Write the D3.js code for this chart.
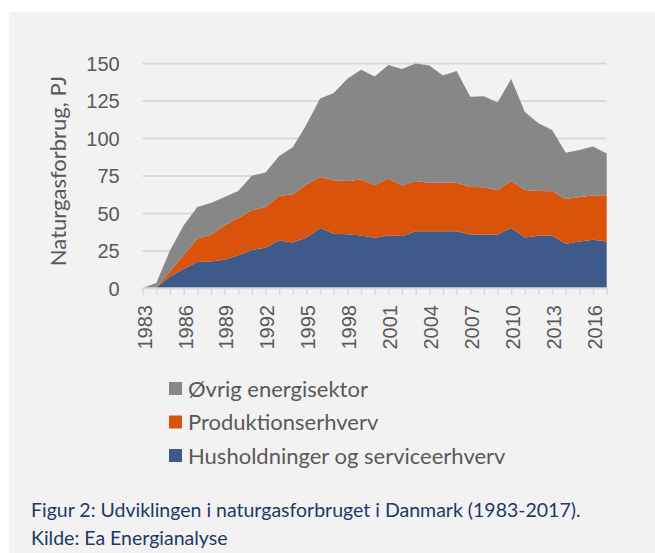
<!DOCTYPE html>
<html>
<head>
  <meta charset="utf-8" />
  <script src="https://d3js.org/d3.v7.min.js"></script>
  <style>
    * {
      margin: 0;
      padding: 0;
      box-sizing: border-box;
    }

    body {
      width: 655px;
      height: 553px;
      background-color: #ffffff;
      overflow: hidden;
    }

    svg {
      display: block;
      font-family: Lato, "Open Sans", sans-serif;
    }

    .axis text {
      fill: #595959;
      font-size: 20px;
    }

    .axis path.domain {
      display: none;
    }
  </style>
</head>
<body>
  <svg width="655" height="553"></svg>

  <script>
    // Data (PJ per year)
    const years = d3.range(1983, 2018);
    const husholdninger = [0, 0.3, 7.6, 12.7, 17.4, 17.6, 18.8, 21.9, 25.4, 26.8, 31.7, 30.4, 33.7, 40, 36.2,
      35.9, 35, 33.5, 35, 34.6, 37.9, 37.9, 37.9, 37.9, 35.7, 35.5, 35.7, 40, 33.7, 34.8, 34.8, 29.5, 31, 32.1, 31];
    const produktion = [0, 0.2, 3.4, 9.3, 15.4, 17.9, 22.9, 24.8, 26.4, 27.2, 29.7, 32.1, 35.3, 34, 35.7,
      35.5, 37.3, 35, 38, 33.7, 33.5, 32.2, 32.2, 32.2, 31.7, 31.7, 29.5, 31.4, 31.7, 29.9, 29.7, 29.9, 29.7, 29.5, 30.8];
    const ovrig = [0, 2.8, 14, 19.7, 21.2, 21.2, 19, 18, 23, 23, 26.6, 31.3, 40, 52.3, 58.1,
      68.1, 73.2, 72.5, 75.7, 77.7, 78.2, 78.3, 71.6, 74.5, 60.1, 60.7, 58.5, 67.9, 52, 45.1, 40.9, 30.8, 31.3, 32.8, 27.9];

    const seriesNames = ["Husholdninger og serviceerhverv", "Produktionserhverv", "Øvrig energisektor"];
    const seriesColors = ["#3e5a8a", "#d9540a", "#878787"];
    const yTicks = [0, 25, 50, 75, 100, 125, 150];
    const yLabel = "Naturgasforbrug, PJ";
    const caption = ["Figur 2: Udviklingen i naturgasforbruget i Danmark (1983-2017).", "Kilde: Ea Energianalyse"];

    const svg = d3.select("svg");

    // grey panel
    svg.append("rect")
      .attr("x", 9).attr("y", 12)
      .attr("width", 646).attr("height", 541)
      .attr("fill", "#f2f2f2");

    const x = d3.scalePoint().domain(years).range([142.7, 606.7]);
    const y = d3.scaleLinear().domain([0, 150]).range([288, 63]);

    // y axis with gridlines
    svg.append("g")
      .attr("class", "axis")
      .attr("transform", "translate(142.7,0)")
      .call(d3.axisLeft(y).tickValues(yTicks).tickSize(-464).tickPadding(23))
      .call(g => g.selectAll(".tick line").attr("stroke", "#d9d9d9").attr("stroke-width", 2))
      .call(g => g.selectAll(".tick text").attr("dy", "0.36em"));

    // stacked areas
    const rows = years.map((yr, i) => ({
      year: yr,
      [seriesNames[0]]: husholdninger[i],
      [seriesNames[1]]: produktion[i],
      [seriesNames[2]]: ovrig[i]
    }));
    const stacked = d3.stack().keys(seriesNames)(rows);

    const area = d3.area()
      .x(d => x(d.data.year))
      .y0(d => y(d[0]))
      .y1(d => y(d[1]));

    svg.append("g")
      .selectAll("path")
      .data(stacked)
      .join("path")
      .attr("d", area)
      .attr("fill", (d, i) => seriesColors[i]);

    // x axis
    svg.append("g")
      .attr("class", "axis")
      .attr("transform", "translate(0,288)")
      .call(d3.axisBottom(x).tickSize(7).tickFormat(d => (d - 1983) % 3 === 0 ? d : ""))
      .call(g => g.selectAll(".tick line").attr("stroke", "#d9d9d9").attr("stroke-width", 1.5))
      .call(g => g.selectAll(".tick text")
        .attr("transform", "rotate(-90)")
        .attr("text-anchor", "end")
        .attr("x", -17)
        .attr("y", 0)
        .attr("dy", "0.42em"));

    svg.append("line")
      .attr("x1", 142.7).attr("x2", 606.7)
      .attr("y1", 288).attr("y2", 288)
      .attr("stroke", "#d9d9d9").attr("stroke-width", 1.5);

    // y axis title
    svg.append("text")
      .attr("transform", "translate(66,171) rotate(-90)")
      .attr("text-anchor", "middle")
      .attr("fill", "#595959")
      .attr("font-size", 22)
      .text(yLabel);

    // legend (top entry is the top series)
    const legend = svg.append("g")
      .selectAll("g")
      .data(seriesNames.slice().reverse())
      .join("g")
      .attr("transform", (d, i) => `translate(169,${382 + i * 33.5})`);

    legend.append("rect")
      .attr("width", 13).attr("height", 13)
      .attr("fill", d => seriesColors[seriesNames.indexOf(d)]);

    legend.append("text")
      .attr("x", 19).attr("y", 14.5)
      .attr("fill", "#595959")
      .attr("font-size", 22)
      .text(d => d);

    // caption
    svg.append("g")
      .selectAll("text")
      .data(caption)
      .join("text")
      .attr("x", 31)
      .attr("y", (d, i) => 517 + i * 28)
      .attr("fill", "#1f3864")
      .attr("font-size", 19.5)
      .text(d => d);
  </script>
</body>
</html>
